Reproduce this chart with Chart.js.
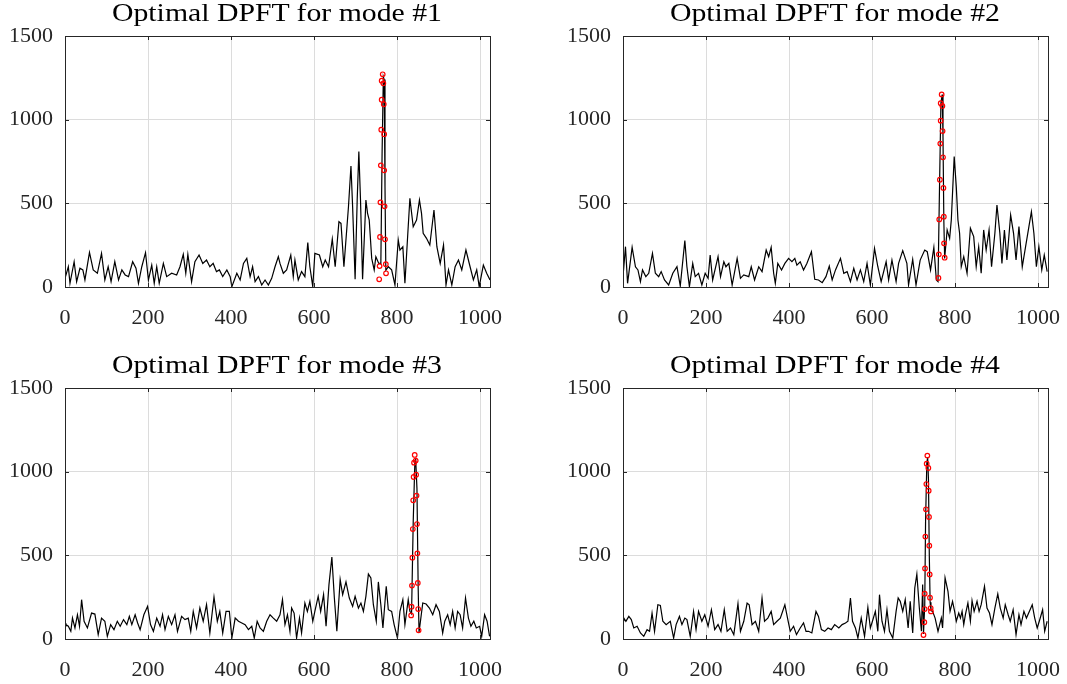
<!DOCTYPE html>
<html>
<head>
<meta charset="utf-8">
<script src="https://cdn.jsdelivr.net/npm/chart.js@4"></script>
<style>
  body { margin: 0; background: #fff; width: 1067px; height: 684px; position: relative; overflow: hidden; }
  canvas { position: absolute; }
  .title {
    position: absolute; width: 500px; text-align: center;
    font-family: 'Liberation Serif', serif; font-size: 25px; line-height: 25px; color: #000;
    transform: scaleX(1.19);
  }
</style>
</head>
<body>
<canvas id="c1" width="530" height="330" style="left:0;top:0"></canvas>
<canvas id="c2" width="509" height="330" style="left:558px;top:0"></canvas>
<canvas id="c3" width="530" height="330" style="left:0;top:352px"></canvas>
<canvas id="c4" width="509" height="330" style="left:558px;top:352px"></canvas>
<script>
// Títulos e ticks
const titles = ['Optimal DPFT for mode #1', 'Optimal DPFT for mode #2', 'Optimal DPFT for mode #3', 'Optimal DPFT for mode #4'];
const xTicks = [0, 200, 400, 600, 800, 1000];
const yTicks = [0, 500, 1000, 1500];

// Modo 1
const xs1 = [0,8,12,22,28,36,43,48,59,68,78,88,96,104,111,120,129,137,145,153,163,171,177,185,194,201,209,215,221,227,237,245,257,269,277,285,291,296,305,313,323,332,341,349,357,365,372,380,390,398,402,414,422,430,438,446,452,458,466,474,482,490,498,506,514,518,526,534,544,550,554,562,570,578,585,590,597,602,613,621,627,635,644,651,660,665,672,683,689,693,699,704,708,712,717,725,729,733,739,745,749,756,761,764,767,769,771,773,779,787,795,803,807,814,819,826,831,839,847,854,859,863,871,879,889,896,904,912,918,924,932,940,948,956,966,976,984,992,998,1008,1016,1024];
const ys1 = [52,121,22,151,32,112,102,42,207,102,82,201,42,121,32,151,42,102,72,62,151,112,22,121,205,42,131,22,121,22,141,62,82,72,121,195,82,195,32,151,191,141,161,121,141,92,102,62,102,62,2,82,42,141,171,62,121,32,62,12,42,12,52,121,181,141,82,102,191,62,161,42,92,62,265,121,2,201,191,121,161,121,287,121,390,380,121,480,723,480,46,520,809,520,46,520,440,400,171,102,181,141,141,800,1257,1240,600,100,121,102,12,281,221,241,22,321,530,360,400,520,440,321,291,251,460,241,141,251,12,102,12,121,161,102,221,121,42,102,2,131,82,42];
const mx1 = [765.5,763,767,763,768,762,769,761,769,760,770,759,771,758,773,773.5,757];
const my1 = [1271,1233,1217,1119,1092,940,913,727,697,506,482,299,285,125,136,82,46];

// Modo 2
const xs2 = [0,6,11,22,30,36,42,47,55,62,71,78,86,92,100,110,120,130,138,149,154,160,168,174,182,190,198,205,210,216,229,235,243,248,255,263,275,283,291,303,309,317,327,335,345,351,357,363,367,373,382,390,399,407,414,419,427,435,443,454,462,471,480,489,497,504,512,524,532,540,548,556,564,572,580,588,596,606,614,622,634,640,648,658,664,674,684,688,698,706,716,727,733,741,749,755,759,762,766,769,771,773,775,781,787,791,798,803,807,811,815,821,829,837,845,851,857,863,869,875,882,888,896,901,908,913,919,925,934,941,947,954,962,970,978,984,990,996,1002,1009,1015,1022];
const ys2 = [62,241,22,237,121,102,32,102,62,82,201,82,62,92,42,12,82,121,6,277,121,2,141,62,82,12,82,52,191,42,181,62,151,121,141,12,171,52,72,62,121,42,121,92,221,181,237,82,22,141,102,141,171,151,171,131,151,102,141,211,46,42,26,62,125,42,102,171,82,92,32,112,42,102,32,141,12,231,121,32,151,42,161,32,141,217,141,12,165,12,161,221,211,102,237,42,32,500,1100,1150,900,400,170,341,291,400,779,600,400,321,121,181,82,351,301,121,241,82,341,221,341,121,321,490,321,141,341,161,430,321,161,361,121,241,361,450,321,121,241,102,191,92];
const mx2 = [767.8,765.5,769.5,765.5,770,764.5,771,763.5,772,762,773,773.5,761,775,760];
const my2 = [1151,1098,1082,994,932,857,775,641,592,404,420,261,195,175,54];

// Modo 3
const xs3 = [0,2,8,14,18,24,30,35,40,46,54,64,72,80,88,96,102,110,118,126,133,141,149,155,161,169,175,181,190,199,206,213,221,229,235,241,249,257,265,271,281,289,297,303,309,317,325,333,341,349,359,367,373,380,388,396,402,410,418,426,434,442,450,456,463,470,478,486,494,502,510,518,524,530,536,542,546,552,558,565,570,578,584,590,597,602,610,616,623,629,636,643,649,655,663,669,677,685,693,699,707,713,719,725,731,737,743,750,755,761,766,774,779,787,793,801,807,814,819,827,831,835,839,843,845,848,851,853,862,870,878,886,894,902,910,915,922,928,934,940,946,952,958,965,972,978,985,991,999,1004,1011,1017,1023];
const ys3 = [96,86,76,46,125,66,145,76,235,106,66,155,149,26,125,106,16,86,56,106,76,116,86,135,86,145,96,56,145,195,86,46,125,76,145,56,135,86,145,46,135,116,125,46,165,66,185,106,205,36,251,106,165,36,165,165,6,125,106,96,86,56,76,6,106,66,46,106,145,125,106,145,235,86,145,46,185,155,6,125,36,215,165,225,106,165,255,165,265,76,325,490,245,46,355,265,341,245,195,255,185,215,165,255,388,365,205,106,341,205,66,315,175,165,86,6,165,235,86,235,165,150,700,1060,1072,900,300,40,215,209,185,145,205,165,36,106,145,86,165,66,165,145,66,245,125,76,106,66,76,16,145,106,16];
const mx3 = [842.6,841,845,840,846,839,847,838,848,837,849,836,850,835,851,834,852];
const my3 = [1100,1054,1066,968,982,829,857,657,687,486,512,319,335,193,179,141,52];

// Modo 4
const xs4 = [0,2,7,14,20,26,34,42,50,58,64,70,76,84,90,96,104,114,122,128,136,142,149,154,162,170,176,182,190,197,205,213,221,229,236,244,251,259,267,277,283,291,299,304,311,319,327,335,341,349,357,363,371,379,390,398,403,411,418,427,435,441,447,455,465,471,478,486,494,502,510,520,528,536,542,548,553,560,566,574,582,590,596,601,608,614,618,624,630,636,642,650,658,663,668,674,680,687,692,698,703,708,714,719,722,724,727,729,732,734,736,738,740,742,746,752,759,767,770,776,783,788,794,799,803,809,813,817,821,825,831,837,841,846,853,858,863,871,877,883,889,896,903,909,916,921,928,933,940,947,954,959,966,972,979,986,992,998,1003,1011,1016,1022];
const ys4 = [110,125,106,135,116,66,76,36,16,56,46,155,46,205,201,106,86,106,6,86,135,86,125,116,16,165,56,165,106,145,76,175,56,86,46,175,46,66,26,211,46,106,215,205,86,106,46,245,106,125,165,86,106,125,205,106,46,76,26,66,96,46,46,36,165,135,56,46,66,56,86,66,86,96,106,245,106,66,6,125,16,189,66,106,165,46,265,106,46,175,46,6,165,245,225,165,235,66,225,36,305,388,185,46,325,30,200,700,1050,1086,950,500,220,170,165,125,46,125,66,365,285,165,225,165,106,155,125,165,86,145,215,106,229,165,225,165,205,315,185,155,86,185,269,185,125,205,145,106,175,26,145,86,165,125,165,205,125,66,106,175,46,106];
const mx4 = [733.3,731.7,735.7,730.9,736.5,730,737.3,728.5,738,727.7,738.9,726.9,739.7,726.9,741.3,742,726,724];
const my4 = [1096,1048,1022,926,886,775,729,612,558,422,386,271,247,179,185,165,100,24];

const series = [
    { id: 'c1', xs: xs1, ys: ys1, mx: mx1, my: my1 },
    { id: 'c2', xs: xs2, ys: ys2, mx: mx2, my: my2 },
    { id: 'c3', xs: xs3, ys: ys3, mx: mx3, my: my3 },
    { id: 'c4', xs: xs4, ys: ys4, mx: mx4, my: my4 }
];

const corEixo = '#262626';
const corGrade = '#dcdcdc';
const fonteTicks = { family: "'Liberation Serif', serif", size: 22 };

// Desenha a caixa do eixo e os ticks internos (estilo MATLAB)
const caixaPlugin = {
    id: 'caixa',
    afterDatasetsDraw(chart) {
        const { ctx, chartArea: a, scales: { x, y } } = chart;
        const t = 4;
        ctx.save();
        ctx.strokeStyle = corEixo;
        ctx.lineWidth = 1;
        ctx.beginPath();
        x.ticks.forEach(tk => {
            const px = Math.round(x.getPixelForValue(tk.value)) + 0.5;
            ctx.moveTo(px, a.bottom); ctx.lineTo(px, a.bottom - t);
            ctx.moveTo(px, a.top); ctx.lineTo(px, a.top + t);
        });
        y.ticks.forEach(tk => {
            const py = Math.round(y.getPixelForValue(tk.value)) + 0.5;
            ctx.moveTo(a.left, py); ctx.lineTo(a.left + t, py);
            ctx.moveTo(a.right, py); ctx.lineTo(a.right - t, py);
        });
        ctx.stroke();
        ctx.strokeRect(Math.round(a.left) + 0.5, Math.round(a.top) + 0.5,
            Math.round(a.right - a.left), Math.round(a.bottom - a.top));
        ctx.restore();
    }
};

const criarGrafico = (s) => {
    const linha = s.xs.map((v, i) => ({ x: v, y: s.ys[i] }));
    const marcas = s.mx.map((v, i) => ({ x: v, y: s.my[i] }));
    const canvas = document.getElementById(s.id);
    // área útil: 425 px de largura a partir de x = 65 dentro do canvas
    const padDir = canvas.width - 65 - 425;
    new Chart(canvas, {
        type: 'scatter',
        data: {
            datasets: [
                {
                    data: marcas,
                    showLine: false,
                    pointRadius: 2.3,
                    pointBorderWidth: 1.2,
                    pointBorderColor: '#ff0000',
                    pointBackgroundColor: 'rgba(0,0,0,0)',
                    order: 0
                },
                {
                    data: linha,
                    showLine: true,
                    borderColor: '#000',
                    borderWidth: 1.2,
                    pointRadius: 0,
                    tension: 0,
                    order: 1
                }
            ]
        },
        options: {
            responsive: false,
            animation: false,
            devicePixelRatio: 1,
            layout: { padding: { top: 36, right: padDir, bottom: 0, left: 0 } },
            plugins: { legend: { display: false }, tooltip: { enabled: false } },
            scales: {
                x: {
                    type: 'linear', min: 0, max: 1024,
                    afterBuildTicks: (sc) => { sc.ticks = xTicks.map(v => ({ value: v })); },
                    afterFit: (sc) => { sc.height = 43; sc.paddingLeft = 0; sc.paddingRight = 0; },
                    grid: { color: corGrade, drawTicks: false },
                    border: { display: false },
                    ticks: { color: corEixo, font: fonteTicks, padding: 18, maxRotation: 0, callback: v => String(v) }
                },
                y: {
                    type: 'linear', min: 0, max: 1500,
                    afterBuildTicks: (sc) => { sc.ticks = yTicks.map(v => ({ value: v })); },
                    afterFit: (sc) => { sc.width = 65; },
                    grid: { color: corGrade, drawTicks: false },
                    border: { display: false },
                    ticks: { color: corEixo, font: fonteTicks, padding: 12, callback: v => String(v) }
                }
            }
        },
        plugins: [caixaPlugin]
    });
};

// Títulos como texto HTML centrado sobre a área de cada gráfico
const posTitulos = [[27, 0], [585, 0], [27, 352], [585, 352]];
titles.forEach((t, i) => {
    const d = document.createElement('div');
    d.className = 'title';
    d.textContent = t;
    d.style.left = posTitulos[i][0] + 'px';
    d.style.top = posTitulos[i][1] + 'px';
    document.body.appendChild(d);
});

series.forEach(criarGrafico);
</script>
</body>
</html>
